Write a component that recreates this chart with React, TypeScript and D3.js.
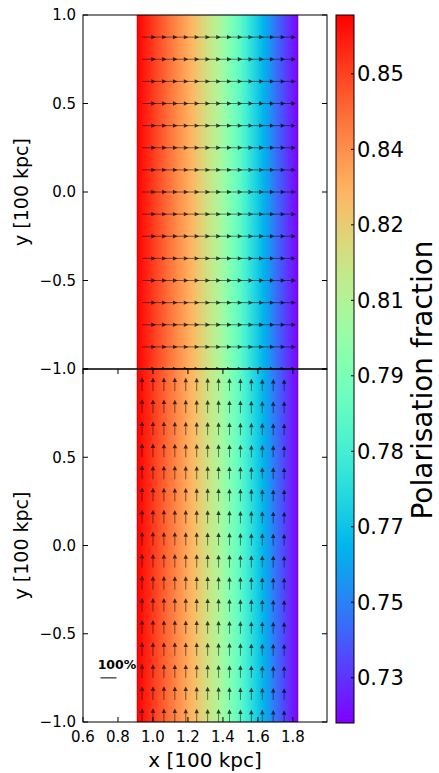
import React from 'react';
import * as d3 from 'd3';

// ---------- data ----------
const X_TICKS = [0.6, 0.8, 1.0, 1.2, 1.4, 1.6, 1.8];
const Y_TICKS_TOP = [1.0, 0.5, 0.0, -0.5, -1.0];
const Y_TICKS_BOTTOM = [0.5, 0.0, -0.5, -1.0];
const X_DOMAIN = [0.6, 1.995];
const Y_DOMAIN = [-1, 1];

// vector grid (tail positions)
const GRID_X = [0.9375, 1.0, 1.0625, 1.125, 1.1875, 1.25, 1.3125, 1.375, 1.4375, 1.5, 1.5625, 1.625, 1.6875, 1.75];
const GRID_Y = [0.875, 0.75, 0.625, 0.5, 0.375, 0.25, 0.125, 0.0, -0.125, -0.25, -0.375, -0.5, -0.625, -0.75, -0.875, -1.0];
// polarisation fraction at each grid column
const POL = [0.862, 0.855, 0.848, 0.841, 0.834, 0.826, 0.817, 0.808, 0.796, 0.785, 0.772, 0.761, 0.748, 0.737];
// image extent in x and polarisation at its edges
const IMAGE_X = [0.908, 1.83];
const EDGE_POL = [0.8652, 0.7245];

// colour bar
const CB_DOMAIN = [0.7245, 0.8652];
const CB_TICK_VALUES = [0.8535, 0.8385, 0.8235, 0.8085, 0.7935, 0.7785, 0.7635, 0.7485, 0.7335];
const CB_TICK_LABELS = ['0.85', '0.84', '0.82', '0.81', '0.79', '0.78', '0.77', '0.75', '0.73'];

// quiver key
const KEY_VALUE = 1.0;
const KEY_POS = [0.70, -0.75];
const KEY_LABEL = '100%';

// ---------- layout ----------
const W = 439, H = 773;
const AX_L = 83, AX_R = 327;
const TOP_T = 15, TOP_B = 369;
const BOT_T = 369, BOT_B = 722;
const CB_L = 336, CB_R = 354, CB_T = 15, CB_B = 723;
const ARROW_PX = 16; // pixels per unit polarisation
const FONT = 'DejaVu Sans, sans-serif';

function rainbow(t: number): string {
  const c = (v: number) => Math.round(Math.max(0, Math.min(1, v)) * 255);
  const r = Math.abs(2 * t - 0.5);
  const g = Math.sin(Math.PI * t);
  const b = Math.cos((Math.PI * t) / 2);
  return `rgb(${c(r)},${c(g)},${c(b)})`;
}

const fmt = (v: number) => (v < 0 ? '\u2212' : '') + Math.abs(v).toFixed(1);

function Arrow({ x0, y0, dx, dy, len }: { x0: number; y0: number; dx: number; dy: number; len: number }) {
  const hl = 4.5, hw = 2.2;
  const tx = x0 + dx * len, ty = y0 + dy * len;
  const bx = tx - dx * hl, by = ty - dy * hl;
  const px = -dy, py = dx;
  return (
    <g>
      <line x1={x0} y1={y0} x2={bx} y2={by} stroke="#000" strokeOpacity={0.5} strokeWidth={1} />
      <polygon
        points={`${tx},${ty} ${bx + px * hw},${by + py * hw} ${bx - px * hw},${by - py * hw}`}
        fill="#000"
        fillOpacity={0.75}
      />
    </g>
  );
}

export default function App() {
  const x = d3.scaleLinear().domain(X_DOMAIN).range([AX_L, AX_R]);
  const yTop = d3.scaleLinear().domain(Y_DOMAIN).range([TOP_B, TOP_T]);
  const yBot = d3.scaleLinear().domain(Y_DOMAIN).range([BOT_B, BOT_T]);
  const cb = d3.scaleLinear().domain(CB_DOMAIN).range([CB_B, CB_T]);
  const norm = d3.scaleLinear().domain(CB_DOMAIN).range([0, 1]).clamp(true);

  const profile = d3
    .scaleLinear()
    .domain([IMAGE_X[0], ...GRID_X, IMAGE_X[1]])
    .range([EDGE_POL[0], ...POL, EDGE_POL[1]]);

  const nStops = 120;
  const imgStops = d3.range(nStops + 1).map((i) => {
    const xv = IMAGE_X[0] + ((IMAGE_X[1] - IMAGE_X[0]) * i) / nStops;
    return { off: i / nStops, color: rainbow(norm(profile(xv))) };
  });
  const cbStops = d3.range(nStops + 1).map((i) => ({ off: i / nStops, color: rainbow(1 - i / nStops) }));

  const imgX0 = x(IMAGE_X[0]);
  const imgW = x(IMAGE_X[1]) - x(IMAGE_X[0]);

  const panels = [
    { y: yTop, t: TOP_T, b: TOP_B, dir: [1, 0], yticks: Y_TICKS_TOP, xticks: false },
    { y: yBot, t: BOT_T, b: BOT_B, dir: [0, -1], yticks: Y_TICKS_BOTTOM, xticks: true },
  ];

  return (
    <div style={{ position: 'absolute', left: 0, top: 0 }}>
      <svg width={W} height={H} viewBox={`0 0 ${W} ${H}`} style={{ display: 'block', background: '#fff' }}>
        <defs>
          <linearGradient id="imgGrad" x1="0" y1="0" x2="1" y2="0">
            {imgStops.map((s, i) => (
              <stop key={i} offset={s.off} stopColor={s.color} />
            ))}
          </linearGradient>
          <linearGradient id="cbGrad" x1="0" y1="0" x2="0" y2="1">
            {cbStops.map((s, i) => (
              <stop key={i} offset={s.off} stopColor={s.color} />
            ))}
          </linearGradient>
        </defs>
        <rect x={0} y={0} width={W} height={H} fill="#fff" />

        {panels.map((p, pi) => (
          <g key={pi}>
            <rect x={imgX0} y={p.t} width={imgW} height={p.b - p.t} fill="url(#imgGrad)" stroke="#000" strokeOpacity={0.18} strokeWidth={1} />
            {GRID_Y.map((gy, ri) =>
              GRID_X.map((gx, ci) => (
                <Arrow key={`${ri}-${ci}`} x0={x(gx)} y0={p.y(gy)} dx={p.dir[0]} dy={p.dir[1]} len={POL[ci] * ARROW_PX} />
              ))
            )}
          </g>
        ))}

        {/* quiver key */}
        <line
          x1={x(KEY_POS[0])}
          x2={x(KEY_POS[0]) + KEY_VALUE * ARROW_PX}
          y1={yBot(KEY_POS[1])}
          y2={yBot(KEY_POS[1])}
          stroke="#000"
          strokeWidth={1}
        />
        <text x={x(KEY_POS[0]) + KEY_VALUE * ARROW_PX + 0.5} y={yBot(KEY_POS[1]) - 9} textAnchor="middle" fontFamily={FONT} fontWeight="bold" fontSize={12.5}>
          {KEY_LABEL}
        </text>

        {panels.map((p, pi) => (
          <g key={`ax${pi}`}>
            <rect x={AX_L} y={p.t} width={AX_R - AX_L} height={p.b - p.t} fill="none" stroke="#000" strokeWidth={1} />
            {p.yticks.concat(pi === 1 ? [1.0] : []).map((v) => (
              <g key={v}>
                <line x1={AX_L} x2={AX_L + 5} y1={p.y(v)} y2={p.y(v)} stroke="#000" />
                <line x1={AX_R - 5} x2={AX_R} y1={p.y(v)} y2={p.y(v)} stroke="#000" />
              </g>
            ))}
            {p.yticks.map((v) => (
              <text key={`l${v}`} x={AX_L - 7} y={p.y(v)} dy="0.36em" textAnchor="end" fontFamily={FONT} fontSize={15}>
                {fmt(v)}
              </text>
            ))}
            {p.xticks &&
              X_TICKS.map((v) => (
                <g key={`xb${v}`}>
                  <line x1={x(v)} x2={x(v)} y1={p.b} y2={p.b - 5} stroke="#000" />
                  <line x1={x(v)} x2={x(v)} y1={p.t} y2={p.t + 5} stroke="#000" />
                  <text x={x(v)} y={p.b + 20} textAnchor="middle" fontFamily={FONT} fontSize={15}>
                    {v.toFixed(1)}
                  </text>
                </g>
              ))}
            <text
              transform={`translate(28,${(p.t + p.b) / 2}) rotate(-90)`}
              textAnchor="middle"
              fontFamily={FONT}
              fontSize={19}
            >
              y [100 kpc]
            </text>
          </g>
        ))}

        <text x={(AX_L + AX_R) / 2} y={767} textAnchor="middle" fontFamily={FONT} fontSize={20}>
          x [100 kpc]
        </text>

        {/* colour bar */}
        <rect x={CB_L} y={CB_T} width={CB_R - CB_L} height={CB_B - CB_T} fill="url(#cbGrad)" stroke="#000" strokeWidth={1} />
        {CB_TICK_VALUES.map((v, i) => (
          <g key={`cb${i}`}>
            <line x1={CB_R - 3} x2={CB_R} y1={cb(v)} y2={cb(v)} stroke="#000" />
            <text x={CB_R + 3} y={cb(v)} dy="0.36em" fontFamily={FONT} fontSize={21}>
              {CB_TICK_LABELS[i]}
            </text>
          </g>
        ))}
        <text transform={`translate(432,380) rotate(-90)`} textAnchor="middle" fontFamily={FONT} fontSize={28}>
          Polarisation fraction
        </text>
      </svg>
    </div>
  );
}
